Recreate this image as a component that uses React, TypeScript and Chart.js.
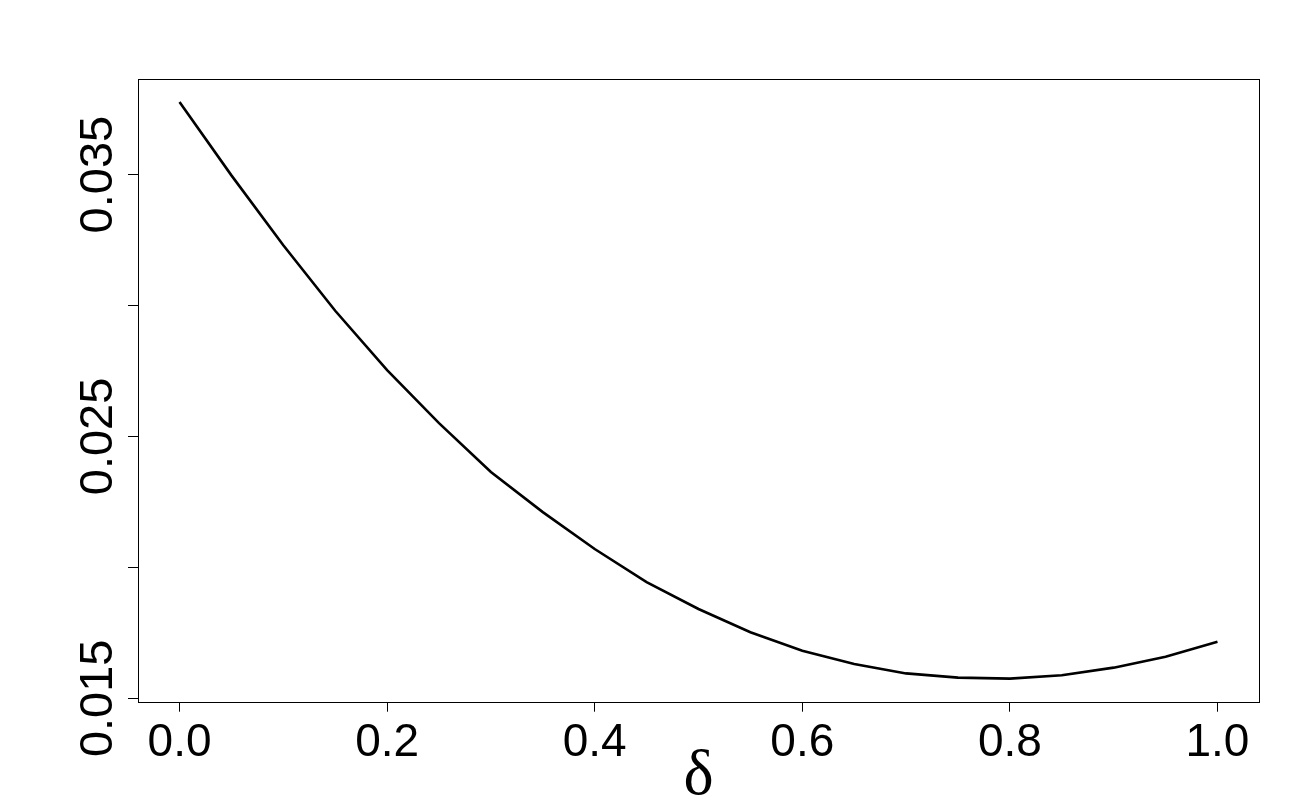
import React, { useEffect, useRef } from "react";
import { Chart, registerables } from "chart.js";

Chart.register(...registerables);

// δ values (x) and the plotted quantity (y)
const deltaValues = [0, 0.05, 0.1, 0.15, 0.2, 0.25, 0.3, 0.35, 0.4, 0.45, 0.5, 0.55, 0.6, 0.65, 0.7, 0.75, 0.8, 0.85, 0.9, 0.95, 1.0];
const curveValues = [0.03777, 0.03497, 0.0323, 0.0298, 0.02753, 0.02551, 0.02364, 0.02211, 0.0207, 0.01944, 0.01841, 0.01752, 0.01682, 0.01631, 0.01595, 0.01579, 0.01575, 0.01588, 0.01617, 0.01659, 0.01716];

const xTickValues = [0, 0.2, 0.4, 0.6, 0.8, 1.0];
const xTickLabels = ["0.0", "0.2", "0.4", "0.6", "0.8", "1.0"];
const yTickValues = [0.015, 0.02, 0.025, 0.03, 0.035];
const yTickLabels = ["0.015", "", "0.025", "", "0.035"];
const xAxisTitle = "δ";

const X_MIN = -0.04;
const X_MAX = 1.04;
const Y_MIN = 0.01487;
const Y_MAX = 0.03865;

const boxAndLabels = {
  id: "boxAndLabels",
  afterDraw(chart: any) {
    const { ctx, chartArea, scales } = chart;
    ctx.save();
    // plot frame
    ctx.strokeStyle = "#000";
    ctx.lineWidth = 1;
    ctx.strokeRect(
      Math.round(chartArea.left) + 0.5,
      Math.round(chartArea.top) + 0.5,
      Math.round(chartArea.right - chartArea.left),
      Math.round(chartArea.bottom - chartArea.top)
    );
    // rotated y tick labels
    ctx.fillStyle = "#000";
    ctx.font = "47px 'Liberation Sans', Arial, sans-serif";
    ctx.textAlign = "center";
    ctx.textBaseline = "alphabetic";
    yTickValues.forEach((v, i) => {
      const label = yTickLabels[i];
      if (!label) return;
      const py = scales.y.getPixelForValue(v);
      ctx.save();
      ctx.translate(112, py);
      ctx.rotate(-Math.PI / 2);
      ctx.fillText(label, 0, 0);
      ctx.restore();
    });
    // axis title δ
    ctx.font = "64px 'Liberation Serif', 'Times New Roman', serif";
    ctx.textAlign = "center";
    ctx.textBaseline = "alphabetic";
    ctx.fillText(xAxisTitle, (chartArea.left + chartArea.right) / 2, 794);
    ctx.restore();
  },
};

export default function App() {
  const canvasRef = useRef<HTMLCanvasElement | null>(null);

  useEffect(() => {
    if (!canvasRef.current) return;
    const points = deltaValues.map((x, i) => ({ x, y: curveValues[i] }));
    const chart = new Chart(canvasRef.current, {
      type: "line",
      data: {
        datasets: [
          {
            data: points,
            borderColor: "#000",
            borderWidth: 2.6,
            pointRadius: 0,
            tension: 0,
            fill: false,
          },
        ],
      },
      options: {
        animation: false,
        responsive: false,
        maintainAspectRatio: false,
        layout: { padding: { top: 79, right: 41, left: 0, bottom: 0 } },
        plugins: { legend: { display: false }, tooltip: { enabled: false }, title: { display: false } },
        scales: {
          x: {
            type: "linear",
            min: X_MIN,
            max: X_MAX,
            afterBuildTicks: (scale: any) => {
              scale.ticks = xTickValues.map((v) => ({ value: v }));
            },
            afterFit: (scale: any) => {
              scale.height = 98.3;
            },
            border: { display: false },
            grid: {
              display: true,
              drawOnChartArea: false,
              drawTicks: true,
              tickLength: 10,
              color: "#000",
              lineWidth: 1,
            },
            ticks: {
              autoSkip: false,
              maxRotation: 0,
              minRotation: 0,
              padding: 4,
              color: "#000",
              font: { family: "'Liberation Sans', Arial, sans-serif", size: 46 },
              callback: (value: any) => {
                const idx = xTickValues.findIndex((t) => Math.abs(t - Number(value)) < 1e-9);
                return idx >= 0 ? xTickLabels[idx] : "";
              },
            },
          },
          y: {
            type: "linear",
            min: Y_MIN,
            max: Y_MAX,
            afterBuildTicks: (scale: any) => {
              scale.ticks = yTickValues.map((v) => ({ value: v }));
            },
            afterFit: (scale: any) => {
              scale.width = 138;
            },
            border: { display: false },
            grid: {
              display: true,
              drawOnChartArea: false,
              drawTicks: true,
              tickLength: 10,
              color: "#000",
              lineWidth: 1,
            },
            ticks: { display: false },
          },
        },
      },
      plugins: [boxAndLabels],
    });
    return () => chart.destroy();
  }, []);

  return (
    <div style={{ position: "fixed", left: 0, top: 0, width: 1300, height: 800, background: "#fff" }}>
      <canvas ref={canvasRef} width={1300} height={800} style={{ display: "block" }} />
    </div>
  );
}
